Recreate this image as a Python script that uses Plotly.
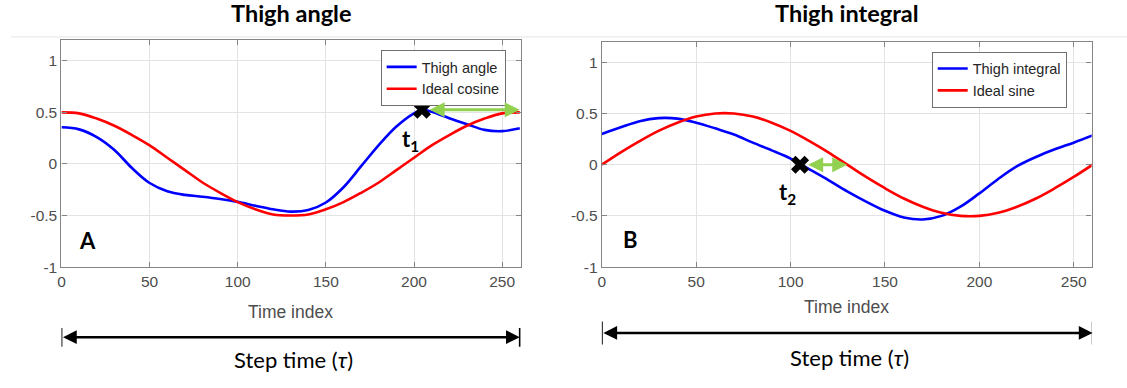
import plotly.graph_objects as go

W, H = 1127, 388

# ---------------- data ----------------
time_index = [0, 10, 20, 30, 40, 50, 60, 70, 80, 90, 100, 110, 120, 130,
              140, 150, 160, 170, 180, 190, 200, 210, 220, 230, 240, 250, 260]

angle_time = [0, 10, 20, 30, 40, 50, 60, 70, 80, 90, 100, 110, 120, 130,
              140, 150, 160, 170, 180, 190, 200, 205, 210, 220, 230, 240, 250, 260]
thigh_angle = [0.355, 0.335, 0.26, 0.135, -0.04, -0.185, -0.265, -0.30, -0.318, -0.34,
               -0.368, -0.405, -0.44, -0.462, -0.447, -0.374, -0.226, -0.022, 0.182,
               0.362, 0.49, 0.525, 0.505, 0.443, 0.385, 0.33, 0.318, 0.346]
ideal_cosine = [0.50, 0.49, 0.44, 0.37, 0.28, 0.18, 0.06, -0.06, -0.18, -0.28, -0.37,
                -0.44, -0.49, -0.50, -0.49, -0.44, -0.37, -0.28, -0.18, -0.06, 0.06,
                0.18, 0.28, 0.37, 0.44, 0.49, 0.50]

thigh_integral = [0.30, 0.365, 0.425, 0.455, 0.45, 0.41, 0.355, 0.295, 0.215, 0.14,
                  0.06, -0.045, -0.15, -0.26, -0.36, -0.45, -0.515, -0.535, -0.50,
                  -0.41, -0.28, -0.14, -0.015, 0.075, 0.15, 0.215, 0.285]
ideal_sine = [0.0, 0.12, 0.23, 0.33, 0.41, 0.47, 0.50, 0.50, 0.47, 0.41, 0.33, 0.23,
              0.12, 0.0, -0.12, -0.23, -0.33, -0.41, -0.47, -0.50, -0.50, -0.47,
              -0.41, -0.33, -0.23, -0.12, 0.0]

# event markers (t1 on angle, t2 on integral) and matching ideal points
t1_point = [204.5, 0.525]
t1_ideal_time = 260
t2_point = [105, 0.0]
t2_ideal_time = 130

step_time = [0, 260]

x_tickvals = [0, 50, 100, 150, 200, 250]
x_ticktext = ["0", "50", "100", "150", "200", "250"]
y_tickvals = [-1, -0.5, 0, 0.5, 1]
y_ticktext = ["-1", "-0.5", "0", "0.5", "1"]

panel_titles = ["Thigh angle", "Thigh integral"]
panel_letters = ["A", "B"]

# ---------------- helpers ----------------
def px(x):
    return x / W


def py(y):
    return (H - y) / H


BLUE = "#0000ff"
RED = "#ff0000"
GREEN = "#92d050"
ARIAL = "Liberation Sans, Arial, sans-serif"
TICKFONT = dict(family=ARIAL, size=15.5, color="#4d4d4d")
CALI = "Lato, 'Open Sans', sans-serif"

fig = go.Figure()

fig.add_trace(go.Scatter(x=angle_time, y=thigh_angle, mode="lines", name="Thigh angle",
                         line=dict(color=BLUE, width=2.6, shape="spline", smoothing=1.0),
                         xaxis="x", yaxis="y", legend="legend"))
fig.add_trace(go.Scatter(x=time_index, y=ideal_cosine, mode="lines", name="Ideal cosine",
                         line=dict(color=RED, width=2.6, shape="spline", smoothing=1.0),
                         xaxis="x", yaxis="y", legend="legend"))
fig.add_trace(go.Scatter(x=time_index, y=thigh_integral, mode="lines", name="Thigh integral",
                         line=dict(color=BLUE, width=2.6, shape="spline", smoothing=1.0),
                         xaxis="x2", yaxis="y2", legend="legend2"))
fig.add_trace(go.Scatter(x=time_index, y=ideal_sine, mode="lines", name="Ideal sine",
                         line=dict(color=RED, width=2.6, shape="spline", smoothing=1.0),
                         xaxis="x2", yaxis="y2", legend="legend2"))

# X markers
fig.add_trace(go.Scatter(x=[t1_point[0]], y=[t1_point[1]], mode="markers", showlegend=False,
                         marker=dict(symbol="x", size=16, color="black", line=dict(width=0)),
                         xaxis="x", yaxis="y"))
fig.add_trace(go.Scatter(x=[t2_point[0]], y=[t2_point[1]], mode="markers", showlegend=False,
                         marker=dict(symbol="x", size=16, color="black", line=dict(width=0)),
                         xaxis="x2", yaxis="y2"))

axis_common = dict(showline=True, mirror="ticks", linecolor="#858585", linewidth=1.3,
                   ticks="inside", ticklen=5, tickcolor="#858585", showgrid=True,
                   gridcolor="#e3e3e3", gridwidth=1, zeroline=False, tickfont=TICKFONT)

xdom1 = [px(57.7), px(518.5)]
xdom2 = [px(600), px(1091.5)]
ydom1 = [py(272.7), py(41)]
ydom2 = [py(272.7), py(42.7)]

legend_common = dict(xanchor="left", yanchor="top", bgcolor="white", bordercolor="#6f6f6f",
                     borderwidth=1, font=dict(family=ARIAL, size=14.5, color="#262626"),
                     itemwidth=30, tracegroupgap=0)

fig.update_layout(
    width=W, height=H, margin=dict(l=0, r=0, t=0, b=0),
    paper_bgcolor="white", plot_bgcolor="white",
    xaxis=dict(domain=xdom1, range=[0, 260.5], anchor="y", tickvals=x_tickvals,
               ticktext=x_ticktext, **axis_common),
    yaxis=dict(domain=ydom1, range=[-1, 1.2], anchor="x", tickvals=y_tickvals,
               ticktext=y_ticktext, **axis_common),
    xaxis2=dict(domain=xdom2, range=[0, 259.5], anchor="y2", tickvals=x_tickvals,
                ticktext=x_ticktext, **axis_common),
    yaxis2=dict(domain=ydom2, range=[-1, 1.2], anchor="x2", tickvals=y_tickvals,
                ticktext=y_ticktext, **axis_common),
    legend=dict(x=px(378), y=py(51), **legend_common),
    legend2=dict(x=px(931), y=py(52.7), **legend_common),
    showlegend=True,
)

ann = []
# Panel titles
for i, xc in enumerate([288, 846]):
    ann.append(dict(text=f"<b>{panel_titles[i]}</b>", x=px(xc), y=py(13), xref="paper", yref="paper",
                    showarrow=False, xanchor="center", yanchor="middle",
                    font=dict(family=CALI, size=23.5, color="black")))
# x-axis titles
ann.append(dict(text="Time index", x=px(288), y=py(319), xref="paper", yref="paper",
                showarrow=False, xanchor="center", yanchor="middle",
                font=dict(family=ARIAL, size=17.5, color="#4d4d4d")))
ann.append(dict(text="Time index", x=px(846), y=py(313), xref="paper", yref="paper",
                showarrow=False, xanchor="center", yanchor="middle",
                font=dict(family=ARIAL, size=17.5, color="#4d4d4d")))
# Panel letters
ann.append(dict(text=f"<b>{panel_letters[0]}</b>", x=15, y=-0.74, xref="x", yref="y",
                showarrow=False, xanchor="center", yanchor="middle",
                font=dict(family=CALI, size=22, color="black")))
ann.append(dict(text=f"<b>{panel_letters[1]}</b>", x=15, y=-0.73, xref="x2", yref="y2",
                showarrow=False, xanchor="center", yanchor="middle",
                font=dict(family=CALI, size=22, color="black")))
# t1 / t2 labels
ann.append(dict(text="<b>t<sub>1</sub></b>", x=198, y=0.23, xref="x", yref="y",
                showarrow=False, xanchor="center", yanchor="middle",
                font=dict(family=CALI, size=22, color="black")))
ann.append(dict(text="<b>t<sub>2</sub></b>", x=98.5, y=-0.28, xref="x2", yref="y2",
                showarrow=False, xanchor="center", yanchor="middle",
                font=dict(family=CALI, size=22, color="black")))
# green double arrows
ann.append(dict(text="", x=t1_ideal_time, y=t1_point[1], ax=t1_point[0] + 3.5, ay=t1_point[1],
                xref="x", yref="y", axref="x", ayref="y", showarrow=True,
                arrowhead=2, arrowsize=1, arrowwidth=3, arrowcolor=GREEN, arrowside="end+start"))
ann.append(dict(text="", x=t2_ideal_time, y=t2_point[1], ax=t2_point[0] + 3.5, ay=t2_point[1],
                xref="x2", yref="y2", axref="x2", ayref="y2", showarrow=True,
                arrowhead=2, arrowsize=1, arrowwidth=3, arrowcolor=GREEN, arrowside="end+start"))
# Step time arrows
ann.append(dict(text="", x=step_time[1], y=py(344.3), ax=step_time[0], ay=0,
                xref="x", yref="paper", axref="x", ayref="pixel", showarrow=True,
                arrowhead=2, arrowsize=1.1, arrowwidth=2.5, arrowcolor="black", arrowside="end+start"))
ann.append(dict(text="", x=step_time[1], y=py(340), ax=step_time[0], ay=0,
                xref="x2", yref="paper", axref="x2", ayref="pixel", showarrow=True,
                arrowhead=2, arrowsize=1.1, arrowwidth=2.5, arrowcolor="black", arrowside="end+start"))
ann.append(dict(text="Step time (<i>τ</i>)", x=px(291), y=py(367), xref="paper", yref="paper",
                showarrow=False, xanchor="center", yanchor="middle",
                font=dict(family=CALI, size=22, color="black")))
ann.append(dict(text="Step time (<i>τ</i>)", x=px(849), y=py(365), xref="paper", yref="paper",
                showarrow=False, xanchor="center", yanchor="middle",
                font=dict(family=CALI, size=22, color="black")))
fig.update_layout(annotations=ann)

shapes = []
# separator line at top
shapes.append(dict(type="line", xref="paper", yref="paper", x0=px(7), x1=1, y0=py(37.7), y1=py(37.7),
                   line=dict(color="#e6e6e6", width=1)))
# end bars for step time
for xr, ylo, yhi in [("x", 354, 335), ("x2", 351.7, 328.3)]:
    for xv in step_time:
        shapes.append(dict(type="line", xref=xr, yref="paper", x0=xv, x1=xv, y0=py(ylo), y1=py(yhi),
                           line=dict(color="black", width=1.8)))
fig.update_layout(shapes=shapes)

fig.write_html("out.html")
